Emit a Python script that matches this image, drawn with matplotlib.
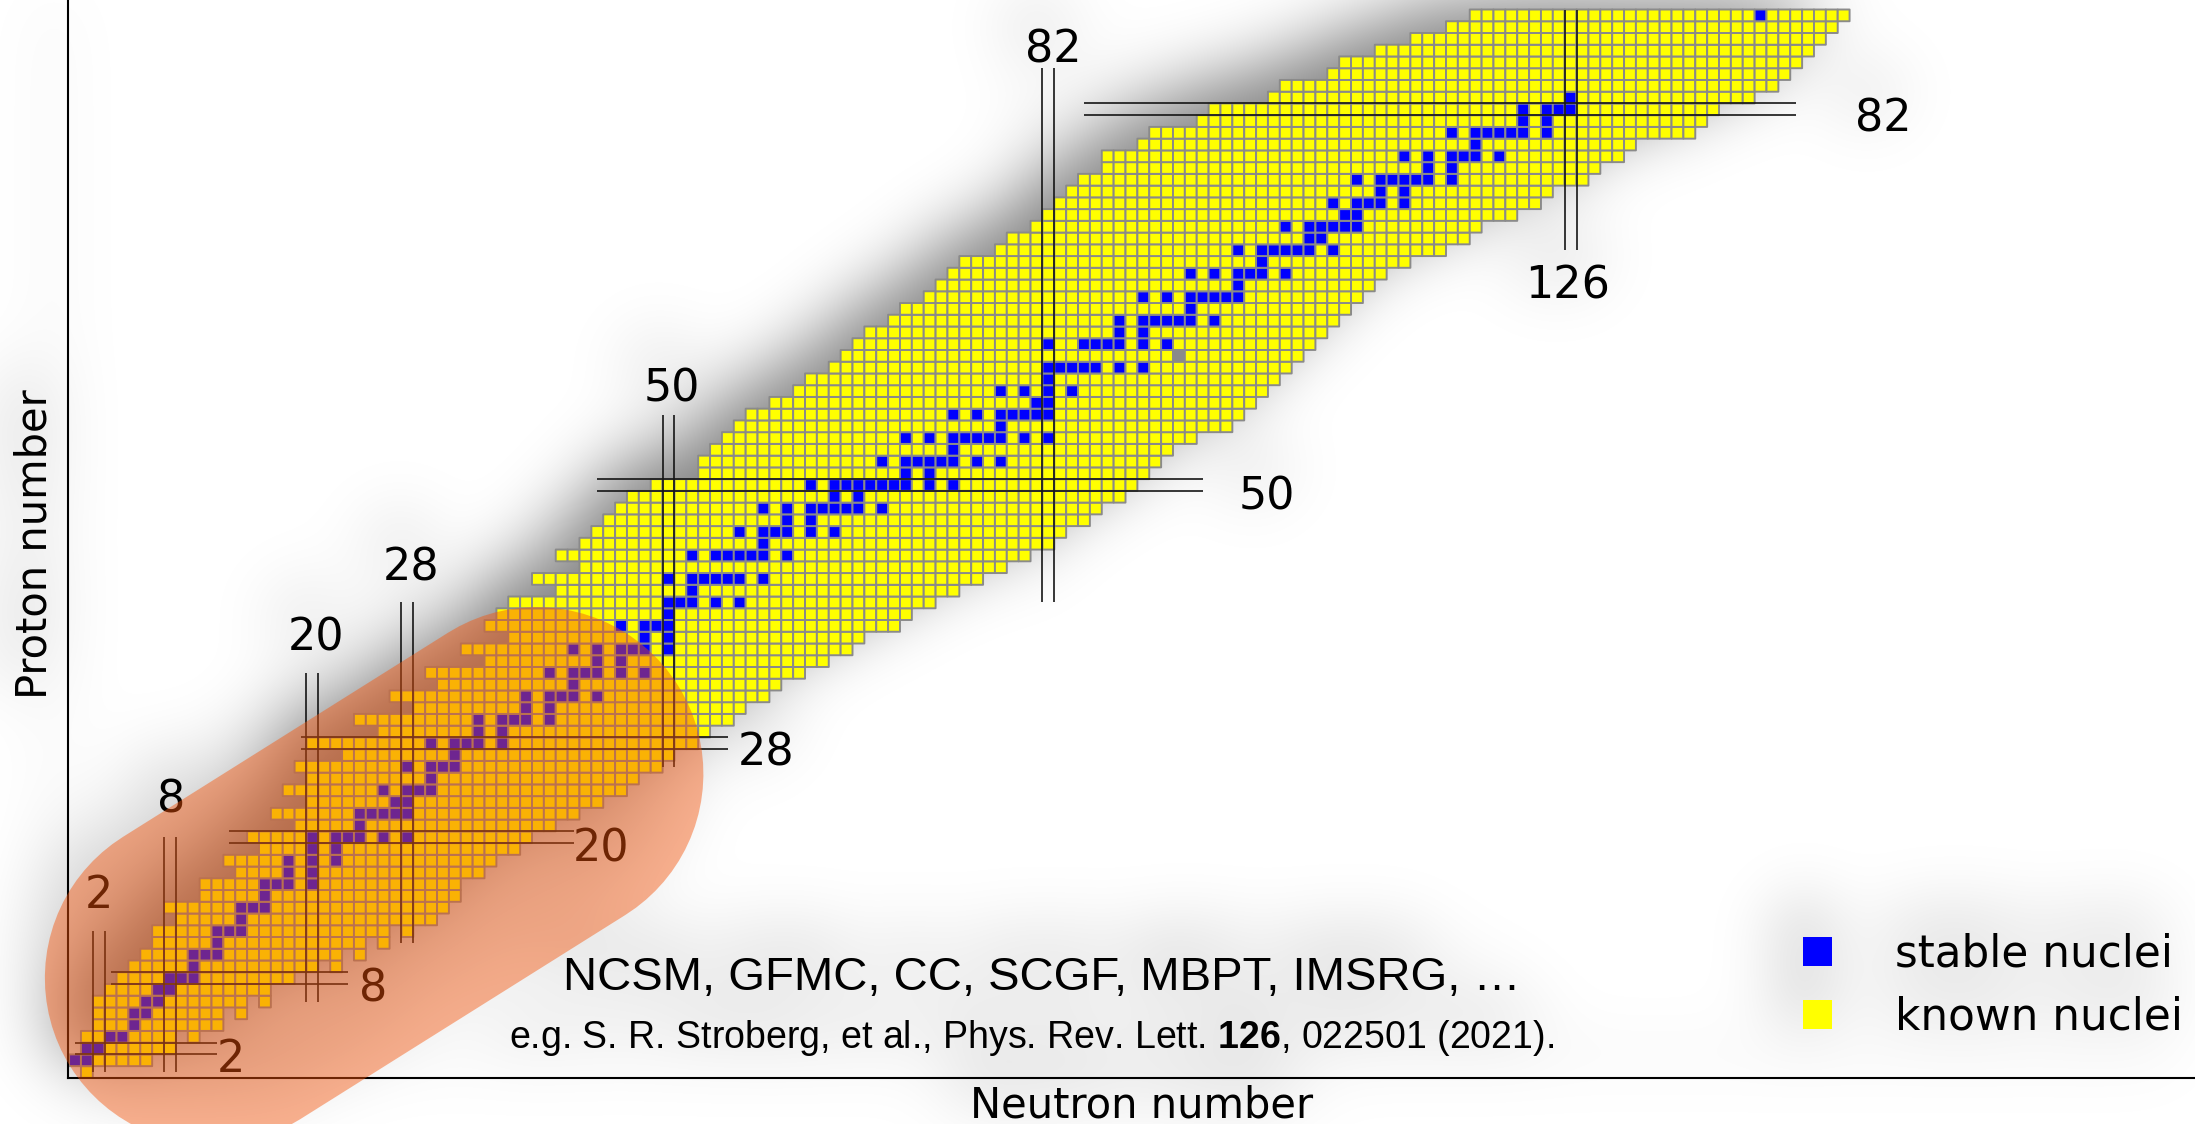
import numpy as np
import matplotlib
matplotlib.use("Agg")
import matplotlib.pyplot as plt
from matplotlib.colors import ListedColormap
from matplotlib.patches import Rectangle

W, H = 2195, 1124

# known nuclei: for every proton number the lightest and heaviest known isotope (as neutron number)
Z_rows = list(range(91))
N_min = [1, 0, 1, 1, 2, 2, 2, 3, 4, 5,
         6, 7, 7, 9, 8, 11, 11, 14, 13, 16,
         15, 19, 17, 20, 18, 20, 19, 23, 20, 26,
         24, 29, 27, 31, 30, 35, 33, 37, 35, 36,
         37, 41, 39, 43, 41, 43, 44, 45, 46, 47,
         49, 53, 53, 54, 55, 56, 57, 59, 61, 62,
         64, 65, 66, 67, 69, 70, 72, 73, 74, 75,
         78, 79, 81, 82, 83, 84, 85, 87, 87, 90,
         91, 95, 96, 101, 102, 106, 107, 110, 113, 116,
         118]
N_max = [1, 6, 8, 8, 12, 12, 14, 16, 18, 20,
         22, 24, 26, 30, 31, 32, 32, 34, 35, 37,
         38, 40, 42, 44, 46, 47, 49, 50, 52, 53,
         55, 56, 58, 59, 61, 63, 65, 66, 69, 70,
         72, 74, 76, 78, 80, 82, 83, 85, 86, 88,
         89, 90, 91, 92, 94, 97, 98, 99, 100, 101,
         102, 103, 104, 105, 106, 107, 108, 109, 110, 112,
         115, 117, 118, 121, 123, 124, 127, 128, 130, 131,
         136, 137, 138, 141, 143, 144, 145, 146, 147, 148,
         149]
# isolated known nuclei beyond a gap
extra_Z = [3, 5, 6, 9, 10, 11, 12]
extra_N = [10, 14, 16, 22, 24, 26, 28]
# cell with no data (shown grey)
gray_Z = [61]
gray_N = [93]

# stable nuclei, neutron numbers per proton number
stable_N = [
    [], [0, 1], [1, 2], [3, 4], [5], [5, 6], [6, 7], [7, 8], [8, 9, 10], [10],
    [10, 11, 12], [12], [12, 13, 14], [14], [14, 15, 16], [16], [16, 17, 18, 20], [18, 20], [18, 20, 22], [20, 22],
    [20, 22, 23, 24, 26, 28], [24], [24, 25, 26, 27, 28], [27, 28], [26, 28, 29, 30], [30], [28, 30, 31, 32], [32],
    [30, 32, 33, 34, 36], [34, 36],
    [34, 36, 37, 38, 40], [38, 40], [38, 40, 41, 42, 44], [42], [40, 42, 43, 44, 46, 48], [44, 46],
    [42, 44, 46, 47, 48, 50], [48, 50], [46, 48, 49, 50], [50],
    [50, 51, 52, 54, 56], [52], [50, 52, 53, 54, 55, 56, 58], [], [52, 54, 55, 56, 57, 58, 60], [58],
    [56, 58, 59, 60, 62, 64], [60, 62], [58, 60, 62, 63, 64, 65, 66, 68], [64, 66],
    [62, 64, 65, 66, 67, 68, 69, 70, 72, 74], [70, 72], [68, 70, 71, 72, 73, 74, 76, 78], [74],
    [70, 72, 74, 75, 76, 77, 78, 80, 82], [78], [74, 76, 78, 79, 80, 81, 82], [81, 82], [78, 80, 82, 84], [82],
    [82, 83, 84, 85, 86, 88, 90], [], [82, 85, 86, 87, 88, 90, 92], [88, 90], [88, 90, 91, 92, 93, 94, 96], [94],
    [90, 92, 94, 95, 96, 97, 98], [98], [94, 96, 98, 99, 100, 102], [100],
    [98, 100, 101, 102, 103, 104, 106], [104, 105], [102, 104, 105, 106, 107, 108], [107, 108],
    [106, 108, 109, 110, 112], [110, 112], [108, 110, 111, 112, 113, 114, 116], [114, 116],
    [112, 114, 116, 117, 118, 120], [118],
    [116, 118, 119, 120, 121, 122, 124], [122, 124], [122, 124, 125, 126], [126], [], [], [], [], [], [],
    [142]]

# magic numbers: double lines and their labels
magic_N = [2, 8, 20, 28, 50, 82, 126]
vline_lo = [0, 0, 6, 11, 26, 40, 70]
vline_hi = [12, 20, 34, 40, 56, 85.5, 90.5]
vlabel_N = [2.0, 8.1, 20.3, 28.3, 50.3, 82.4, 125.7]
vlabel_Z = [14.0, 22.1, 35.9, 41.9, 57.1, 86.0, 65.9]
magic_Z = [2, 8, 20, 28, 50, 82]
hline_lo = [0, 3, 13, 19, 44, 85]
hline_hi = [12, 23, 42, 55, 95, 145]
hlabel_N = [13.1, 25.1, 44.3, 58.2, 100.4, 152.3]
hlabel_Z = [0.0, 6.0, 17.9, 26.1, 47.9, 80.1]

# region of light nuclei handled by ab initio methods
region_N = [11.5, 38.9]
region_Z = [8.0, 25.4]

plt.rcParams['mathtext.fontset'] = 'custom'
plt.rcParams['mathtext.rm'] = 'Liberation Sans'
plt.rcParams['mathtext.bf'] = 'Liberation Sans:bold'


def fx(x):
    return x / W


def fy(y):
    return 1 - y / H


fig = plt.figure(figsize=(W / 100, H / 100), dpi=100, facecolor='white')
ax = fig.add_axes([fx(68), fy(1078), 1 - fx(68), 1078 / H])
ax.patch.set_visible(False)
ax.set_xlim(-0.59, 178.6)
ax.set_ylim(-0.51, 91.31)
ax.set_xticks([])
ax.set_yticks([])
for s in ['top', 'right']:
    ax.spines[s].set_visible(False)
for s in ['left', 'bottom']:
    ax.spines[s].set_linewidth(1.5)
    ax.spines[s].set_color('black')

grid = np.full((91, 151), np.nan)
for z, lo, hi in zip(Z_rows, N_min, N_max):
    grid[z, lo:hi + 1] = 1
for z, n in zip(extra_Z, extra_N):
    grid[z, n] = 1
for z, ns in zip(Z_rows, stable_N):
    grid[z, ns] = 2
for z, n in zip(gray_Z, gray_N):
    grid[z, n] = 0

cmap = ListedColormap(['#8a8a8a', '#ffff00', '#0000ff'])
ax.pcolor(np.arange(-0.5, 151), np.arange(-0.5, 91), np.ma.masked_invalid(grid),
          cmap=cmap, vmin=-0.5, vmax=2.5, edgecolors='#8a8a8a', linewidth=1.4, zorder=1)

for n, lo, hi in zip(magic_N, vline_lo, vline_hi):
    ax.vlines([n - 0.5, n + 0.5], lo, hi, color='#151515', lw=1.2, zorder=3)
for z, lo, hi in zip(magic_Z, hline_lo, hline_hi):
    ax.hlines([z - 0.5, z + 0.5], lo, hi, color='#151515', lw=1.2, zorder=3)
for n, xl, zl in zip(magic_N, vlabel_N, vlabel_Z):
    ax.text(xl, zl, str(n), ha='center', va='baseline', fontsize=32, zorder=4, clip_on=False)
for z, xl, zl in zip(magic_Z, hlabel_N, hlabel_Z):
    ax.text(xl, zl, str(z), ha='center', va='baseline', fontsize=32, zorder=4, clip_on=False)

ax.plot(region_N, region_Z, lw=240, solid_capstyle='round', color=(0.96, 0.33, 0.04),
        alpha=0.45, zorder=10, clip_on=False)

fig.text(fx(1141.5), fy(1118), 'Neutron number', ha='center', va='baseline', fontsize=30)
fig.text(fx(35), fy(544), 'Proton number', rotation=90, ha='center', va='center', fontsize=30)

fig.add_artist(Rectangle((fx(1803), fy(966)), 29 / W, 29 / H, transform=fig.transFigure,
                         facecolor='#0000ff', edgecolor='none'))
fig.add_artist(Rectangle((fx(1803), fy(1029)), 29 / W, 29 / H, transform=fig.transFigure,
                         facecolor='#ffff00', edgecolor='none'))
fig.text(fx(1895), fy(966.7), 'stable nuclei', va='baseline', fontsize=31.5)
fig.text(fx(1895), fy(1029), 'known nuclei', va='baseline', fontsize=31.5)

fig.text(fx(1042), fy(990), 'NCSM, GFMC, CC, SCGF, MBPT, IMSRG, \u2026', ha='center', va='baseline',
         fontsize=34, family='Liberation Sans')
fig.text(fx(1032), fy(1048.3), r'e.g. S. R. Stroberg, et al., Phys. Rev. Lett. $\mathbf{126}$, 022501 (2021).',
         ha='center', va='baseline', fontsize=27, family='Liberation Sans')


# soft drop shadow under everything: blur of what was drawn, shifted up-left
def blur(a, s):
    pad = int(3 * s)
    p = np.pad(a, pad)
    ky = np.fft.fftfreq(p.shape[0])[:, None]
    kx = np.fft.rfftfreq(p.shape[1])[None, :]
    g = np.exp(-2 * (np.pi * s) ** 2 * (kx ** 2 + ky ** 2))
    out = np.fft.irfft2(np.fft.rfft2(p) * g, s=p.shape)
    return out[pad:-pad, pad:-pad]


fig.canvas.draw()
rgb = np.asarray(fig.canvas.buffer_rgba())[:, :, :3].astype(float) / 255
ink = (1 - rgb.min(axis=2)) ** 2
shifted = np.zeros_like(ink)
shifted[:-23, :-14] = ink[23:, 14:]
shade = np.clip(0.65 * blur(shifted, 35), 0, 1)
rgba = np.zeros(shade.shape + (4,))
rgba[..., 3] = shade
fig.figimage(rgba, 0, 0, origin='upper', zorder=-10)

fig.savefig('out.png', dpi=100, facecolor='white')
